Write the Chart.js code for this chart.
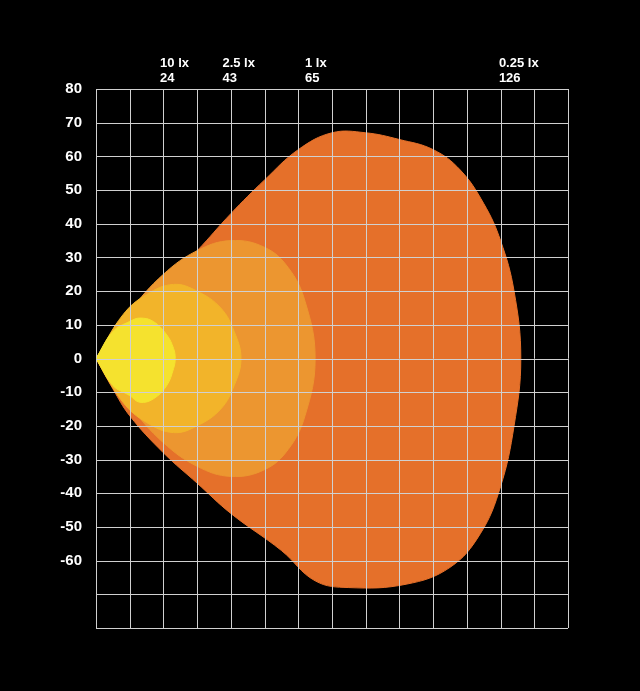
<!DOCTYPE html><html><head><script src="https://cdn.jsdelivr.net/npm/chart.js@4"></script>
<style>body{margin:0;background:#000}</style></head><body><canvas id="c" width="640" height="691"></canvas>
<script>
const lux025 = [[0,0],[5,7],[10,13],[20,22],[30,32],[40,43],[50,53],[60,62],[70,67],[80,67],[90,65],[100,62],[108,56],[115,46],[120,35],[124,20],[126,0],[124,-20],[120,-38],[114,-52],[105,-62],[92,-67],[75,-68],[65,-66],[55,-57],[40,-46],[30,-37],[20,-28],[10,-17],[5,-9],[0,0]];
const lux1 = [[0,0],[10,14],[20,25],[30,32],[40,35],[50,33],[57,27],[62,17],[65,0],[62,-17],[57,-27],[50,-33],[40,-35],[30,-32],[20,-25],[10,-14],[0,0]];
const lux25 = [[0,0],[8,13],[15,19],[23,22],[30,20],[37,15],[41,8],[43,0],[41,-8],[37,-15],[30,-20],[23,-22],[15,-19],[8,-13],[0,0]];
const lux10 = [[0,0],[5,8],[10,11],[13,12],[17,11],[21,7],[23,3],[23.5,0],[23,-3],[21,-8],[17,-12],[13,-13],[10,-11],[5,-8],[0,0]];
const topLabels = [[19,'10 lx','24'],[37.5,'2.5 lx','43'],[62,'1 lx','65'],[119.5,'0.25 lx','126']];
const mk=(d,c,o)=>({data:d.map(p=>({x:p[0],y:p[1]})),order:o,showLine:true,fill:'shape',backgroundColor:c,borderColor:c,borderWidth:1,pointRadius:0,tension:0.4});
const gridOver={id:'g',afterDatasetsDraw(ch){const {ctx,chartArea:a,scales:{x,y}}=ch;ctx.save();ctx.strokeStyle='#d0d0d0';ctx.lineWidth=1;
for(let v=0;v<=140;v+=10){const px=Math.round(x.getPixelForValue(v))+0.5;ctx.beginPath();ctx.moveTo(px,a.top);ctx.lineTo(px,a.bottom);ctx.stroke();}
for(let v=-80;v<=80;v+=10){const py=Math.round(y.getPixelForValue(v))+0.5;ctx.beginPath();ctx.moveTo(a.left,py);ctx.lineTo(a.right,py);ctx.stroke();}
ctx.fillStyle='#fff';ctx.font='bold 13px "Liberation Sans", Arial';ctx.textAlign='left';
topLabels.forEach(t=>{const px=x.getPixelForValue(t[0]);ctx.fillText(t[1],px,67);ctx.fillText(t[2],px,82);});ctx.restore();}};
new Chart(document.getElementById('c'),{type:'scatter',data:{datasets:[mk(lux025,'#E5702A',4),mk(lux1,'#EC9630',3),mk(lux25,'#F2B42A',2),mk(lux10,'#F5E22E',1)]},
options:{responsive:false,animation:false,plugins:{legend:{display:false},tooltip:{enabled:false}},layout:{padding:{top:89,right:72,bottom:63,left:0}},
scales:{x:{type:'linear',min:0,max:140,ticks:{display:false,stepSize:10},grid:{display:false},border:{display:false},afterFit(s){s.height=0;}},
y:{min:-80,max:80,ticks:{stepSize:10,color:'#fff',font:{size:15,weight:'bold',family:'Liberation Sans'},padding:6,callback:v=>v<-60?'':v},grid:{display:false},border:{display:false},afterFit(s){s.width=96;}}}},
plugins:[gridOver,{id:'bg',beforeDraw(ch){ch.ctx.fillStyle='#000';ch.ctx.fillRect(0,0,640,691);}}]});
</script></body></html>
